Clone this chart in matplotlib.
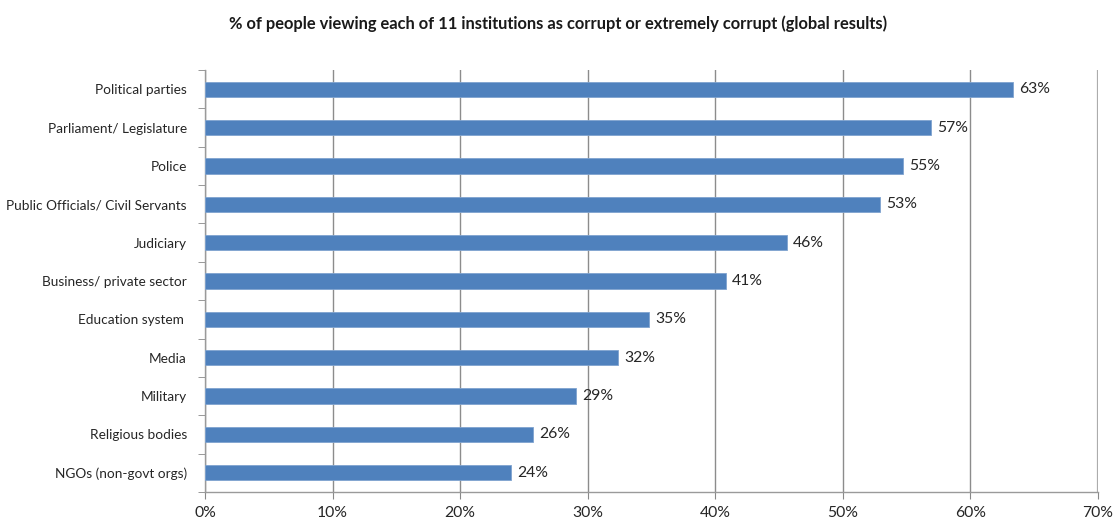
import numpy as np
import matplotlib.pyplot as plt

institutions = [
    "Political parties",
    "Parliament/ Legislature",
    "Police",
    "Public Officials/ Civil Servants",
    "Judiciary",
    "Business/ private sector",
    "Education system ",
    "Media",
    "Military",
    "Religious bodies",
    "NGOs (non-govt orgs)",
]
# share viewing the institution as corrupt, in %
corrupt_pct = [63.3, 56.9, 54.7, 52.9, 45.6, 40.8, 34.8, 32.4, 29.1, 25.7, 24.0]
x_ticks = [0, 10, 20, 30, 40, 50, 60, 70]

plt.rcParams['font.family'] = ['Lato', 'DejaVu Sans']

fig = plt.figure(figsize=(11.16, 5.22), dpi=100)
ax = fig.add_axes([0.1837, 0.0575, 0.8002, 0.8084])

y = np.arange(len(institutions))[::-1]
ax.barh(y, corrupt_pct, height=0.4, color="#4F81BD", edgecolor="#7FA3CF",
        linewidth=0.6, zorder=3)

for yi, v in zip(y, corrupt_pct):
    ax.text(v + 0.5, yi, f"{v:.0f}%", va="center", ha="left",
            fontsize=11.3, color="#262626")

ax.set_xlim(0, 70)
ax.set_ylim(-0.5, len(institutions) - 0.5)
ax.set_xticks(x_ticks)
ax.set_xticklabels([f"{t}%" for t in x_ticks], fontsize=11.3, color="#262626")
ax.set_yticks(y)
ax.set_yticklabels(institutions, fontsize=9.8, color="#262626")
ax.tick_params(axis="y", which="major", length=0, pad=13)
ax.set_yticks(np.arange(-0.5, len(institutions)), minor=True)
ax.tick_params(axis="y", which="minor", length=5, color="#888888", direction="out")
ax.tick_params(axis="x", length=5, color="#888888", direction="out", pad=5)

ax.grid(axis="x", color="#8c8c8c", linewidth=1.0, zorder=0)
for side in ["top", "right"]:
    ax.spines[side].set_visible(False)
for side in ["left", "bottom"]:
    ax.spines[side].set_color("#9a9a9a")
    ax.spines[side].set_linewidth(1.0)
ax.axvline(70, color="#b5b5b5", linewidth=1.6, zorder=1)

fig.suptitle("% of people viewing each of 11 institutions as corrupt or extremely corrupt (global results)",
             x=0.5, y=0.97, fontsize=11.9, fontweight="bold", color="#1a1a1a")

fig.savefig("out.png", dpi=100)
